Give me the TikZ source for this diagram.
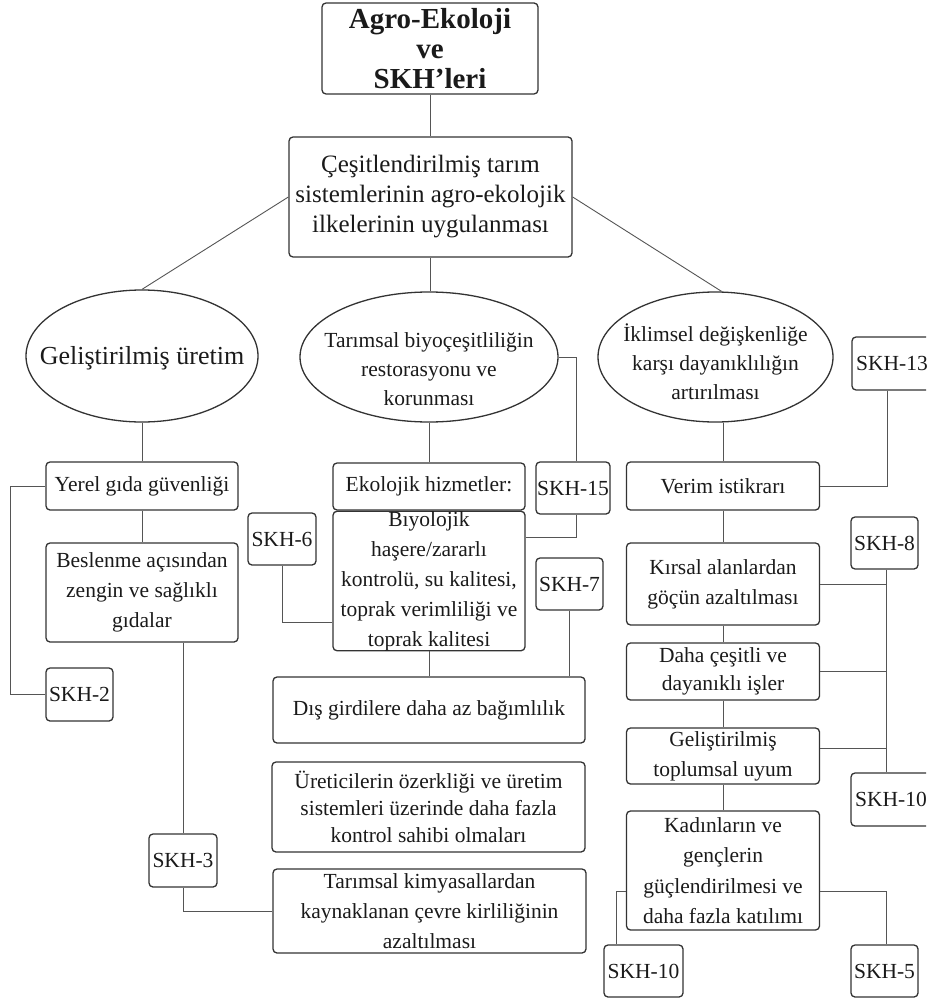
\documentclass[tikz,border=0pt]{standalone}
\usepackage{fontspec}
\setmainfont{Liberation Serif}
\usetikzlibrary{shapes.geometric}
\definecolor{edgegray}{HTML}{333333}
\definecolor{wiregray}{HTML}{555555}
\definecolor{ink}{HTML}{1A1A1A}

\begin{document}
\begin{tikzpicture}[x=1pt,y=-1pt,
  card/.style={draw=edgegray, line width=1.3pt, rounded corners=4pt, inner sep=0pt,
    align=center, text=ink, font=\fontsize{21.5}{30}\selectfont},
  skhbox/.style={card, font=\fontsize{21.5}{26}\selectfont},
  oval/.style={draw=edgegray, line width=1.3pt, ellipse, inner sep=0pt},
  ovaltext/.style={align=center, text=ink, inner sep=0pt, font=\fontsize{21.5}{29}\selectfont},
  link/.style={draw=wiregray, line width=0.9pt}]

\useasboundingbox (0,0) rectangle (926,1003);
\clip (0,0) rectangle (926,1003);

% --- head and main principle ---
\node[card, minimum width=216pt, minimum height=91pt, font=\fontsize{29}{30}\bfseries]
  (top) at (430,48.5) {Agro-Ekoloji\\ve\\SKH’leri};
\node[card, minimum width=283pt, minimum height=120pt, font=\fontsize{25}{30}\selectfont]
  (main) at (430.5,197) {Çeşitlendirilmiş tarım\\sistemlerinin agro-ekolojik\\ilkelerinin uygulanması};

% --- three outcome ellipses ---
\node[oval, minimum width=232pt, minimum height=132pt] (e1) at (142,356) {};
\node[ovaltext, font=\fontsize{26}{30}\selectfont] (e1t) at (142,358) {Geliştirilmiş üretim};
\node[oval, minimum width=258pt, minimum height=130pt] (e2) at (429,357) {};
\node[ovaltext] (e2t) at (429,369) {Tarımsal biyoçeşitliliğin\\restorasyonu ve\\korunması};
\node[oval, minimum width=235pt, minimum height=130pt] (e3) at (715.5,357) {};
\node[ovaltext] (e3t) at (715.5,362) {İklimsel değişkenliğe\\karşı dayanıklılığın\\artırılması};

% --- left column ---
\node[card, minimum width=192pt, minimum height=48pt] (yerel) at (142,486) {Yerel gıda güvenliği};
\node[card, minimum width=192pt, minimum height=99pt] (besl) at (142,592.5)
  {Beslenme açısından\\zengin ve sağlıklı\\gıdalar};
\node[skhbox, minimum width=67pt, minimum height=53pt] (skh2) at (79.5,694.5) {SKH-2};
\node[skhbox, minimum width=68pt, minimum height=53pt] (skh3) at (183,860.5) {SKH-3};

% --- middle column ---
\node[card, minimum width=192pt, minimum height=47pt] (ekol) at (429,486.5) {Ekolojik hizmetler:};
\node[card, minimum width=192pt, minimum height=138pt] (biyo) at (429,581)
  {Bıyolojik\\haşere/zararlı\\kontrolü, su kalitesi,\\toprak verimliliği ve\\toprak kalitesi};
\node[card, minimum width=312pt, minimum height=66pt] (dis) at (429,710) {Dış girdilere daha az bağımlılık};
\node[card, minimum width=313pt, minimum height=90pt, font=\fontsize{21.5}{27}\selectfont] (uret) at (428.5,807)
  {Üreticilerin özerkliği ve üretim\\sistemleri üzerinde daha fazla\\kontrol sahibi olmaları};
\node[card, minimum width=313pt, minimum height=84pt] (kimya) at (429.5,911)
  {Tarımsal kimyasallardan\\kaynaklanan çevre kirliliğinin\\azaltılması};
\node[skhbox, minimum width=68pt, minimum height=52pt] (skh6) at (282,539) {SKH-6};
\node[skhbox, minimum width=74pt, minimum height=52pt] (skh15) at (573,488) {SKH-15};
\node[skhbox, minimum width=67pt, minimum height=52pt] (skh7) at (569.5,584) {SKH-7};

% --- right column ---
\node[card, minimum width=193pt, minimum height=48pt] (verim) at (723,486) {Verim istikrarı};
\node[card, minimum width=193pt, minimum height=82pt] (kirsal) at (723,584)
  {Kırsal alanlardan\\göçün azaltılması};
\node[card, minimum width=193pt, minimum height=57pt, font=\fontsize{21.5}{28}\selectfont] (daha) at (723,671.5)
  {Daha çeşitli ve\\dayanıklı işler};
\node[card, minimum width=193pt, minimum height=56pt] (toplum) at (723,756)
  {Geliştirilmiş\\toplumsal uyum};
\node[card, minimum width=193pt, minimum height=119pt, font=\fontsize{21.5}{30.5}\selectfont] (kadin) at (723,870.5)
  {Kadınların ve\\gençlerin\\güçlendirilmesi ve\\daha fazla katılımı};
\node[skhbox, minimum width=80pt, minimum height=53pt] (skh13) at (892,363.5) {SKH-13};
\node[skhbox, minimum width=67pt, minimum height=52pt] (skh8) at (884.5,543) {SKH-8};
\node[skhbox, minimum width=80pt, minimum height=53pt] (skh10a) at (891,799.5) {SKH-10};
\node[skhbox, minimum width=79pt, minimum height=52pt] (skh10b) at (643.5,971) {SKH-10};
\node[skhbox, minimum width=67pt, minimum height=52pt] (skh5) at (884.5,971) {SKH-5};

% --- connectors: tree ---
\draw[link] (top.south) -- (top.south |- main.north);
\draw[link] (main.west) -- (e1.north);
\draw[link] (main.south) -- (main.south |- e2.north);
\draw[link] (main.east) -- ([xshift=6pt]e3.north);

\draw[link] (e1.south) -- (yerel.north);
\draw[link] (yerel.south) -- (besl.north);
\draw[link] (yerel.west) -- ++(-35,0) |- (skh2.west);
\draw[link] (skh3.north |- besl.south) -- (skh3.north);
\draw[link] (skh3.south) |- (kimya.west);

\draw[link] (e2.south) -- (ekol.north);
\draw[link] (biyo.south) -- (dis.north);
\draw[link] (skh6.south) |- ([yshift=-41pt]biyo.west);
\draw[link] (e2.east) -| ([xshift=3pt]skh15.north);
\draw[link] ([xshift=3pt]skh15.south) |- ([yshift=44pt]biyo.east);
\draw[link] (skh7.south) -- (skh7.south |- dis.north);

\draw[link] (verim.north |- e3.south) -- (verim.north);
\draw[link] ([xshift=-5pt]skh13.south) |- (verim.east);
\draw[link] (verim.south) -- (kirsal.north);
\draw[link] (kirsal.south) -- (daha.north);
\draw[link] (daha.south) -- (toplum.north);
\draw[link] (toplum.south) -- (kadin.north);
\draw[link] ([xshift=1.5pt]skh8.south) -- ([xshift=1.5pt]skh8.south |- skh10a.north);
\draw[link] (kirsal.east) -- ([xshift=1.5pt]kirsal.east -| skh8.south);
\draw[link] (daha.east) -- ([xshift=1.5pt]daha.east -| skh8.south);
\draw[link] ([yshift=8pt]toplum.east) -- ([xshift=1.5pt,yshift=8pt]toplum.east -| skh8.south);
\draw[link] ([yshift=-21pt]kadin.west) -| ([xshift=-27.5pt]skh10b.north);
\draw[link] ([yshift=-21pt]kadin.east) -| ([xshift=1.5pt]skh5.north);

\end{tikzpicture}
\end{document}
